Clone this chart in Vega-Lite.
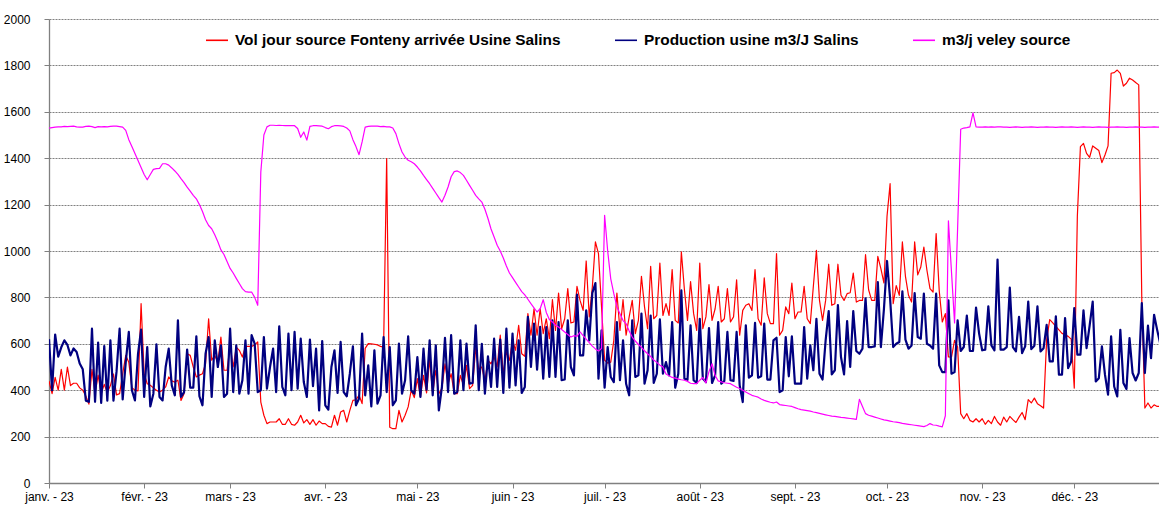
{
"$schema": "https://vega.github.io/schema/vega-lite/v6.json",
"width": 1110, "height": 464,
"autosize": {"type": "none"},
"padding": {"left": 49, "top": 19, "right": 0, "bottom": 22},
"background": "white",
"data": {"values": [
{"d":"2023-01-01","r":440,"b":620,"m":1530},{"d":"2023-01-02","r":385,"b":400,"m":1532},{"d":"2023-01-03","r":455,"b":640,"m":1534},{"d":"2023-01-04","r":400,"b":545,"m":1535},{"d":"2023-01-05","r":490,"b":585,"m":1535},{"d":"2023-01-06","r":400,"b":615,"m":1537},{"d":"2023-01-07","r":500,"b":595,"m":1536},{"d":"2023-01-08","r":420,"b":550,"m":1537},{"d":"2023-01-09","r":430,"b":580,"m":1538},{"d":"2023-01-10","r":430,"b":565,"m":1535},{"d":"2023-01-11","r":410,"b":515,"m":1534},{"d":"2023-01-12","r":400,"b":490,"m":1534},{"d":"2023-01-13","r":375,"b":355,"m":1537},{"d":"2023-01-14","r":340,"b":350,"m":1538},{"d":"2023-01-15","r":490,"b":665,"m":1536},{"d":"2023-01-16","r":385,"b":350,"m":1532},{"d":"2023-01-17","r":465,"b":605,"m":1536},{"d":"2023-01-18","r":385,"b":345,"m":1535},{"d":"2023-01-19","r":425,"b":590,"m":1536},{"d":"2023-01-20","r":390,"b":355,"m":1535},{"d":"2023-01-21","r":420,"b":615,"m":1537},{"d":"2023-01-22","r":470,"b":355,"m":1538},{"d":"2023-01-23","r":380,"b":480,"m":1538},{"d":"2023-01-24","r":385,"b":665,"m":1536},{"d":"2023-01-25","r":470,"b":360,"m":1534},{"d":"2023-01-26","r":550,"b":520,"m":1520},{"d":"2023-01-27","r":520,"b":651,"m":1480},{"d":"2023-01-28","r":411,"b":400,"m":1450},{"d":"2023-01-29","r":400,"b":356,"m":1420},{"d":"2023-01-30","r":397,"b":557,"m":1390},{"d":"2023-01-31","r":773,"b":661,"m":1360},
{"d":"2023-02-01","r":471,"b":371,"m":1330},{"d":"2023-02-02","r":428,"b":586,"m":1307},{"d":"2023-02-03","r":421,"b":330,"m":1330},{"d":"2023-02-04","r":410,"b":385,"m":1352},{"d":"2023-02-05","r":400,"b":598,"m":1355},{"d":"2023-02-06","r":392,"b":371,"m":1356},{"d":"2023-02-07","r":400,"b":356,"m":1376},{"d":"2023-02-08","r":414,"b":500,"m":1376},{"d":"2023-02-09","r":457,"b":579,"m":1370},{"d":"2023-02-10","r":440,"b":421,"m":1358},{"d":"2023-02-11","r":435,"b":378,"m":1345},{"d":"2023-02-12","r":443,"b":701,"m":1330},{"d":"2023-02-13","r":356,"b":371,"m":1312},{"d":"2023-02-14","r":385,"b":392,"m":1295},{"d":"2023-02-15","r":557,"b":575,"m":1275},{"d":"2023-02-16","r":550,"b":411,"m":1258},{"d":"2023-02-17","r":500,"b":411,"m":1240},{"d":"2023-02-18","r":457,"b":632,"m":1225},{"d":"2023-02-19","r":465,"b":374,"m":1200},{"d":"2023-02-20","r":471,"b":335,"m":1170},{"d":"2023-02-21","r":514,"b":557,"m":1135},{"d":"2023-02-22","r":708,"b":629,"m":1110},{"d":"2023-02-23","r":529,"b":371,"m":1096},{"d":"2023-02-24","r":550,"b":615,"m":1070},{"d":"2023-02-25","r":521,"b":500,"m":1040},{"d":"2023-02-26","r":629,"b":593,"m":1005},{"d":"2023-02-27","r":486,"b":371,"m":985},{"d":"2023-02-28","r":486,"b":385,"m":955},
{"d":"2023-03-01","r":593,"b":665,"m":925},{"d":"2023-03-02","r":500,"b":392,"m":905},{"d":"2023-03-03","r":586,"b":593,"m":882},{"d":"2023-03-04","r":572,"b":385,"m":860},{"d":"2023-03-05","r":543,"b":443,"m":838},{"d":"2023-03-06","r":589,"b":615,"m":825},{"d":"2023-03-07","r":589,"b":385,"m":823},{"d":"2023-03-08","r":589,"b":637,"m":823},{"d":"2023-03-09","r":595,"b":601,"m":800},{"d":"2023-03-10","r":608,"b":392,"m":766},{"d":"2023-03-11","r":349,"b":400,"m":1340},{"d":"2023-03-12","r":292,"b":629,"m":1500},{"d":"2023-03-13","r":256,"b":407,"m":1535},{"d":"2023-03-14","r":263,"b":500,"m":1542},{"d":"2023-03-15","r":263,"b":579,"m":1542},{"d":"2023-03-16","r":263,"b":392,"m":1541},{"d":"2023-03-17","r":277,"b":675,"m":1542},{"d":"2023-03-18","r":253,"b":414,"m":1541},{"d":"2023-03-19","r":253,"b":378,"m":1540},{"d":"2023-03-20","r":277,"b":644,"m":1540},{"d":"2023-03-21","r":253,"b":400,"m":1541},{"d":"2023-03-22","r":249,"b":651,"m":1540},{"d":"2023-03-23","r":263,"b":407,"m":1528},{"d":"2023-03-24","r":292,"b":622,"m":1490},{"d":"2023-03-25","r":259,"b":435,"m":1513},{"d":"2023-03-26","r":273,"b":371,"m":1478},{"d":"2023-03-27","r":253,"b":618,"m":1537},{"d":"2023-03-28","r":273,"b":417,"m":1540},{"d":"2023-03-29","r":249,"b":579,"m":1540},{"d":"2023-03-30","r":267,"b":313,"m":1539},{"d":"2023-03-31","r":256,"b":612,"m":1538},
{"d":"2023-04-01","r":256,"b":335,"m":1532},{"d":"2023-04-02","r":244,"b":316,"m":1527},{"d":"2023-04-03","r":241,"b":500,"m":1536},{"d":"2023-04-04","r":292,"b":572,"m":1540},{"d":"2023-04-05","r":249,"b":388,"m":1540},{"d":"2023-04-06","r":306,"b":608,"m":1539},{"d":"2023-04-07","r":313,"b":392,"m":1537},{"d":"2023-04-08","r":263,"b":374,"m":1530},{"d":"2023-04-09","r":313,"b":471,"m":1518},{"d":"2023-04-10","r":356,"b":589,"m":1480},{"d":"2023-04-11","r":359,"b":335,"m":1450},{"d":"2023-04-12","r":378,"b":364,"m":1415},{"d":"2023-04-13","r":342,"b":644,"m":1470},{"d":"2023-04-14","r":580,"b":378,"m":1534},{"d":"2023-04-15","r":601,"b":507,"m":1537},{"d":"2023-04-16","r":600,"b":330,"m":1538},{"d":"2023-04-17","r":598,"b":572,"m":1538},{"d":"2023-04-18","r":595,"b":342,"m":1538},{"d":"2023-04-19","r":589,"b":378,"m":1536},{"d":"2023-04-20","r":586,"b":629,"m":1537},{"d":"2023-04-21","r":1398,"b":392,"m":1535},{"d":"2023-04-22","r":240,"b":586,"m":1535},{"d":"2023-04-23","r":234,"b":335,"m":1530},{"d":"2023-04-24","r":234,"b":356,"m":1506},{"d":"2023-04-25","r":313,"b":601,"m":1463},{"d":"2023-04-26","r":263,"b":385,"m":1427},{"d":"2023-04-27","r":292,"b":443,"m":1405},{"d":"2023-04-28","r":328,"b":632,"m":1391},{"d":"2023-04-29","r":400,"b":400,"m":1385},{"d":"2023-04-30","r":368,"b":385,"m":1376},
{"d":"2023-05-01","r":450,"b":543,"m":1362},{"d":"2023-05-02","r":371,"b":371,"m":1345},{"d":"2023-05-03","r":464,"b":579,"m":1326},{"d":"2023-05-04","r":388,"b":402,"m":1308},{"d":"2023-05-05","r":532,"b":615,"m":1290},{"d":"2023-05-06","r":385,"b":378,"m":1270},{"d":"2023-05-07","r":486,"b":593,"m":1250},{"d":"2023-05-08","r":385,"b":313,"m":1230},{"d":"2023-05-09","r":407,"b":414,"m":1211},{"d":"2023-05-10","r":514,"b":626,"m":1240},{"d":"2023-05-11","r":428,"b":392,"m":1276},{"d":"2023-05-12","r":471,"b":637,"m":1320},{"d":"2023-05-13","r":385,"b":385,"m":1342},{"d":"2023-05-14","r":385,"b":392,"m":1345},{"d":"2023-05-15","r":464,"b":615,"m":1338},{"d":"2023-05-16","r":421,"b":400,"m":1326},{"d":"2023-05-17","r":507,"b":601,"m":1305},{"d":"2023-05-18","r":407,"b":428,"m":1283},{"d":"2023-05-19","r":421,"b":431,"m":1262},{"d":"2023-05-20","r":580,"b":680,"m":1240},{"d":"2023-05-21","r":490,"b":400,"m":1225},{"d":"2023-05-22","r":500,"b":600,"m":1211},{"d":"2023-05-23","r":440,"b":385,"m":1180},{"d":"2023-05-24","r":529,"b":546,"m":1140},{"d":"2023-05-25","r":514,"b":414,"m":1095},{"d":"2023-05-26","r":543,"b":622,"m":1060},{"d":"2023-05-27","r":500,"b":414,"m":1025},{"d":"2023-05-28","r":637,"b":618,"m":1000},{"d":"2023-05-29","r":471,"b":388,"m":970},{"d":"2023-05-30","r":565,"b":665,"m":935},{"d":"2023-05-31","r":529,"b":411,"m":905},
{"d":"2023-06-01","r":615,"b":644,"m":885},{"d":"2023-06-02","r":572,"b":421,"m":865},{"d":"2023-06-03","r":680,"b":615,"m":845},{"d":"2023-06-04","r":557,"b":388,"m":825},{"d":"2023-06-05","r":546,"b":414,"m":811},{"d":"2023-06-06","r":730,"b":716,"m":792},{"d":"2023-06-07","r":637,"b":500,"m":773},{"d":"2023-06-08","r":751,"b":687,"m":755},{"d":"2023-06-09","r":637,"b":489,"m":737},{"d":"2023-06-10","r":751,"b":673,"m":751},{"d":"2023-06-11","r":644,"b":450,"m":790},{"d":"2023-06-12","r":708,"b":672,"m":735},{"d":"2023-06-13","r":622,"b":457,"m":705},{"d":"2023-06-14","r":790,"b":701,"m":694},{"d":"2023-06-15","r":658,"b":457,"m":680},{"d":"2023-06-16","r":819,"b":694,"m":672},{"d":"2023-06-17","r":665,"b":443,"m":662},{"d":"2023-06-18","r":708,"b":446,"m":651},{"d":"2023-06-19","r":838,"b":701,"m":640},{"d":"2023-06-20","r":690,"b":500,"m":629},{"d":"2023-06-21","r":694,"b":464,"m":635},{"d":"2023-06-22","r":848,"b":812,"m":632},{"d":"2023-06-23","r":787,"b":550,"m":651},{"d":"2023-06-24","r":744,"b":550,"m":635},{"d":"2023-06-25","r":957,"b":744,"m":620},{"d":"2023-06-26","r":716,"b":615,"m":605},{"d":"2023-06-27","r":845,"b":819,"m":590},{"d":"2023-06-28","r":1039,"b":862,"m":578},{"d":"2023-06-29","r":989,"b":450,"m":569},{"d":"2023-06-30","r":759,"b":658,"m":580},
{"d":"2023-07-01","r":529,"b":411,"m":1154},{"d":"2023-07-02","r":517,"b":586,"m":1000},{"d":"2023-07-03","r":521,"b":457,"m":880},{"d":"2023-07-04","r":615,"b":435,"m":816},{"d":"2023-07-05","r":819,"b":694,"m":760},{"d":"2023-07-06","r":658,"b":443,"m":730},{"d":"2023-07-07","r":790,"b":615,"m":700},{"d":"2023-07-08","r":637,"b":428,"m":687},{"d":"2023-07-09","r":716,"b":378,"m":655},{"d":"2023-07-10","r":787,"b":701,"m":629},{"d":"2023-07-11","r":644,"b":457,"m":612},{"d":"2023-07-12","r":701,"b":464,"m":597},{"d":"2023-07-13","r":891,"b":730,"m":585},{"d":"2023-07-14","r":759,"b":428,"m":570},{"d":"2023-07-15","r":665,"b":486,"m":557},{"d":"2023-07-16","r":934,"b":722,"m":545},{"d":"2023-07-17","r":708,"b":431,"m":530},{"d":"2023-07-18","r":722,"b":471,"m":520},{"d":"2023-07-19","r":948,"b":705,"m":508},{"d":"2023-07-20","r":722,"b":471,"m":500},{"d":"2023-07-21","r":773,"b":521,"m":470},{"d":"2023-07-22","r":722,"b":464,"m":462},{"d":"2023-07-23","r":920,"b":694,"m":455},{"d":"2023-07-24","r":701,"b":411,"m":452},{"d":"2023-07-25","r":690,"b":471,"m":448},{"d":"2023-07-26","r":996,"b":830,"m":445},{"d":"2023-07-27","r":833,"b":450,"m":443},{"d":"2023-07-28","r":701,"b":445,"m":438},{"d":"2023-07-29","r":868,"b":680,"m":430},{"d":"2023-07-30","r":730,"b":443,"m":428},{"d":"2023-07-31","r":658,"b":431,"m":428},
{"d":"2023-08-01","r":948,"b":708,"m":443},{"d":"2023-08-02","r":665,"b":450,"m":455},{"d":"2023-08-03","r":716,"b":435,"m":431},{"d":"2023-08-04","r":855,"b":668,"m":480},{"d":"2023-08-05","r":701,"b":431,"m":514},{"d":"2023-08-06","r":751,"b":464,"m":464},{"d":"2023-08-07","r":848,"b":694,"m":440},{"d":"2023-08-08","r":694,"b":428,"m":436},{"d":"2023-08-09","r":708,"b":440,"m":432},{"d":"2023-08-10","r":838,"b":651,"m":430},{"d":"2023-08-11","r":694,"b":443,"m":428},{"d":"2023-08-12","r":716,"b":440,"m":420},{"d":"2023-08-13","r":876,"b":651,"m":413},{"d":"2023-08-14","r":637,"b":421,"m":407},{"d":"2023-08-15","r":744,"b":349,"m":400},{"d":"2023-08-16","r":766,"b":680,"m":392},{"d":"2023-08-17","r":773,"b":454,"m":385},{"d":"2023-08-18","r":744,"b":464,"m":378},{"d":"2023-08-19","r":920,"b":690,"m":374},{"d":"2023-08-20","r":708,"b":454,"m":370},{"d":"2023-08-21","r":680,"b":460,"m":362},{"d":"2023-08-22","r":884,"b":687,"m":356},{"d":"2023-08-23","r":730,"b":446,"m":352},{"d":"2023-08-24","r":687,"b":446,"m":348},{"d":"2023-08-25","r":687,"b":615,"m":345},{"d":"2023-08-26","r":989,"b":626,"m":349},{"d":"2023-08-27","r":637,"b":392,"m":338},{"d":"2023-08-28","r":658,"b":400,"m":336},{"d":"2023-08-29","r":759,"b":629,"m":334},{"d":"2023-08-30","r":730,"b":460,"m":332},{"d":"2023-08-31","r":862,"b":632,"m":330},
{"d":"2023-09-01","r":708,"b":428,"m":325},{"d":"2023-09-02","r":737,"b":428,"m":320},{"d":"2023-09-03","r":737,"b":428,"m":316},{"d":"2023-09-04","r":848,"b":672,"m":314},{"d":"2023-09-05","r":708,"b":450,"m":312},{"d":"2023-09-06","r":687,"b":593,"m":310},{"d":"2023-09-07","r":848,"b":486,"m":306},{"d":"2023-09-08","r":1003,"b":708,"m":303},{"d":"2023-09-09","r":787,"b":471,"m":300},{"d":"2023-09-10","r":701,"b":446,"m":297},{"d":"2023-09-11","r":787,"b":615,"m":294},{"d":"2023-09-12","r":943,"b":741,"m":291},{"d":"2023-09-13","r":766,"b":468,"m":288},{"d":"2023-09-14","r":773,"b":486,"m":287},{"d":"2023-09-15","r":943,"b":767,"m":285},{"d":"2023-09-16","r":809,"b":543,"m":283},{"d":"2023-09-17","r":787,"b":468,"m":282},{"d":"2023-09-18","r":816,"b":698,"m":280},{"d":"2023-09-19","r":820,"b":500,"m":278},{"d":"2023-09-20","r":905,"b":741,"m":276},{"d":"2023-09-21","r":780,"b":569,"m":274},{"d":"2023-09-22","r":787,"b":557,"m":361},{"d":"2023-09-23","r":787,"b":579,"m":330},{"d":"2023-09-24","r":984,"b":796,"m":299},{"d":"2023-09-25","r":833,"b":586,"m":292},{"d":"2023-09-26","r":787,"b":586,"m":288},{"d":"2023-09-27","r":787,"b":589,"m":284},{"d":"2023-09-28","r":977,"b":866,"m":280},{"d":"2023-09-29","r":924,"b":586,"m":276},{"d":"2023-09-30","r":862,"b":751,"m":272},
{"d":"2023-10-01","r":1150,"b":957,"m":270},{"d":"2023-10-02","r":1290,"b":796,"m":267},{"d":"2023-10-03","r":773,"b":586,"m":264},{"d":"2023-10-04","r":851,"b":600,"m":262},{"d":"2023-10-05","r":809,"b":608,"m":260},{"d":"2023-10-06","r":1039,"b":826,"m":257},{"d":"2023-10-07","r":891,"b":618,"m":255},{"d":"2023-10-08","r":809,"b":579,"m":253},{"d":"2023-10-09","r":780,"b":593,"m":251},{"d":"2023-10-10","r":1039,"b":819,"m":249},{"d":"2023-10-11","r":897,"b":629,"m":247},{"d":"2023-10-12","r":931,"b":622,"m":245},{"d":"2023-10-13","r":1017,"b":816,"m":243},{"d":"2023-10-14","r":917,"b":600,"m":248},{"d":"2023-10-15","r":838,"b":593,"m":256},{"d":"2023-10-16","r":823,"b":579,"m":250},{"d":"2023-10-17","r":1075,"b":816,"m":249},{"d":"2023-10-18","r":830,"b":507,"m":245},{"d":"2023-10-19","r":694,"b":478,"m":242},{"d":"2023-10-20","r":730,"b":478,"m":290},{"d":"2023-10-21","r":543,"b":787,"m":1130},{"d":"2023-10-22","r":543,"b":471,"m":910},{"d":"2023-10-23","r":615,"b":478,"m":690},{"d":"2023-10-24","r":586,"b":701,"m":1100},{"d":"2023-10-25","r":299,"b":569,"m":1525},{"d":"2023-10-26","r":277,"b":586,"m":1530},{"d":"2023-10-27","r":299,"b":722,"m":1532},{"d":"2023-10-28","r":270,"b":569,"m":1535},{"d":"2023-10-29","r":263,"b":569,"m":1595},{"d":"2023-10-30","r":277,"b":756,"m":1535},{"d":"2023-10-31","r":263,"b":644,"m":1534},
{"d":"2023-11-01","r":277,"b":572,"m":1534},{"d":"2023-11-02","r":253,"b":575,"m":1535},{"d":"2023-11-03","r":270,"b":761,"m":1534},{"d":"2023-11-04","r":256,"b":593,"m":1535},{"d":"2023-11-05","r":287,"b":572,"m":1534},{"d":"2023-11-06","r":263,"b":963,"m":1535},{"d":"2023-11-07","r":249,"b":575,"m":1535},{"d":"2023-11-08","r":284,"b":575,"m":1534},{"d":"2023-11-09","r":263,"b":586,"m":1534},{"d":"2023-11-10","r":287,"b":842,"m":1533},{"d":"2023-11-11","r":273,"b":586,"m":1534},{"d":"2023-11-12","r":261,"b":567,"m":1535},{"d":"2023-11-13","r":284,"b":716,"m":1534},{"d":"2023-11-14","r":304,"b":560,"m":1533},{"d":"2023-11-15","r":273,"b":589,"m":1534},{"d":"2023-11-16","r":359,"b":782,"m":1534},{"d":"2023-11-17","r":345,"b":577,"m":1535},{"d":"2023-11-18","r":366,"b":592,"m":1534},{"d":"2023-11-19","r":342,"b":761,"m":1533},{"d":"2023-11-20","r":333,"b":567,"m":1534},{"d":"2023-11-21","r":323,"b":581,"m":1534},{"d":"2023-11-22","r":617,"b":682,"m":1535},{"d":"2023-11-23","r":704,"b":524,"m":1534},{"d":"2023-11-24","r":690,"b":524,"m":1534},{"d":"2023-11-25","r":675,"b":718,"m":1533},{"d":"2023-11-26","r":660,"b":467,"m":1534},{"d":"2023-11-27","r":645,"b":467,"m":1535},{"d":"2023-11-28","r":639,"b":711,"m":1534},{"d":"2023-11-29","r":632,"b":495,"m":1534},{"d":"2023-11-30","r":620,"b":524,"m":1535},
{"d":"2023-12-01","r":409,"b":754,"m":1534},{"d":"2023-12-02","r":1150,"b":553,"m":1533},{"d":"2023-12-03","r":1450,"b":553,"m":1534},{"d":"2023-12-04","r":1464,"b":744,"m":1535},{"d":"2023-12-05","r":1421,"b":581,"m":1534},{"d":"2023-12-06","r":1404,"b":678,"m":1534},{"d":"2023-12-07","r":1453,"b":782,"m":1533},{"d":"2023-12-08","r":1443,"b":438,"m":1534},{"d":"2023-12-09","r":1433,"b":452,"m":1535},{"d":"2023-12-10","r":1381,"b":589,"m":1534},{"d":"2023-12-11","r":1414,"b":467,"m":1534},{"d":"2023-12-12","r":1453,"b":381,"m":1533},{"d":"2023-12-13","r":1766,"b":632,"m":1534},{"d":"2023-12-14","r":1769,"b":416,"m":1534},{"d":"2023-12-15","r":1780,"b":373,"m":1535},{"d":"2023-12-16","r":1766,"b":660,"m":1534},{"d":"2023-12-17","r":1711,"b":431,"m":1534},{"d":"2023-12-18","r":1723,"b":405,"m":1533},{"d":"2023-12-19","r":1745,"b":625,"m":1534},{"d":"2023-12-20","r":1737,"b":474,"m":1534},{"d":"2023-12-21","r":1726,"b":442,"m":1535},{"d":"2023-12-22","r":1716,"b":474,"m":1534},{"d":"2023-12-23","r":790,"b":775,"m":1534},{"d":"2023-12-24","r":323,"b":474,"m":1533},{"d":"2023-12-25","r":345,"b":678,"m":1534},{"d":"2023-12-26","r":323,"b":538,"m":1534},{"d":"2023-12-27","r":337,"b":725,"m":1535},{"d":"2023-12-28","r":330,"b":660,"m":1534},{"d":"2023-12-29","r":330,"b":600,"m":1534}
]},
"transform": [{"fold": ["r", "b", "m"], "as": ["k", "v"]}],
"mark": {"type": "line", "clip": true, "strokeJoin": "round"},
"encoding": {
  "x": {"field": "d", "type": "temporal",
    "scale": {"type": "utc", "domain": [1672531200000, 1703773440000]},
    "axis": {"title": null, "grid": false,
      "values": [1672531200000,1675209600000,1677628800000,1680307200000,1682899200000,1685577600000,1688169600000,1690848000000,1693526400000,1696118400000,1698796800000,1701388800000],
      "labelExpr": "['janv.','févr.','mars','avr.','mai','juin','juil.','août','sept.','oct.','nov.','déc.'][utcmonth(datum.value)] + ' - 23'",
      "labelFlush": false, "labelOverlap": false, "labelFontSize": 12, "labelPadding": 3,
      "tickSize": 5, "tickColor": "#808080", "domainColor": "#808080", "domainWidth": 1.3}},
  "y": {"field": "v", "type": "quantitative",
    "scale": {"domain": [0, 2000], "nice": false},
    "axis": {"title": null, "values": [0,200,400,600,800,1000,1200,1400,1600,1800,2000], "format": "d",
      "grid": true, "gridColor": "#808080", "gridDash": [2, 1], "gridWidth": 1,
      "labelFlush": false, "labelFontSize": 12, "labelPadding": 14,
      "tickSize": 5, "tickColor": "#808080", "domainColor": "#808080", "domainWidth": 1.3}},
  "color": {"field": "k", "type": "nominal",
    "scale": {"domain": ["r", "b", "m"], "range": ["#FF0000", "#000080", "#FF00FF"]},
    "legend": {"orient": "none", "legendX": 156, "legendY": 9, "direction": "horizontal",
      "title": null, "padding": 0,
      "labelExpr": "datum.label == 'r' ? 'Vol jour source Fonteny arrivée Usine Salins' : datum.label == 'b' ? 'Production usine m3/J Salins' : 'm3/j veley source'",
      "labelFontSize": 15.4, "labelFontWeight": "bold", "labelColor": "black", "labelLimit": 600,
      "symbolType": "stroke", "symbolSize": 484, "symbolStrokeWidth": 1.6, "labelOffset": 6, "columnPadding": 50}},
  "strokeWidth": {"condition": {"test": "datum.k == 'b'", "value": 2.2}, "value": 1.2}
},
"config": {"view": {"stroke": null}, "font": "Liberation Sans",
  "axis": {"labelFont": "Liberation Sans", "labelColor": "black"},
  "legend": {"labelFont": "Liberation Sans"}}
}
